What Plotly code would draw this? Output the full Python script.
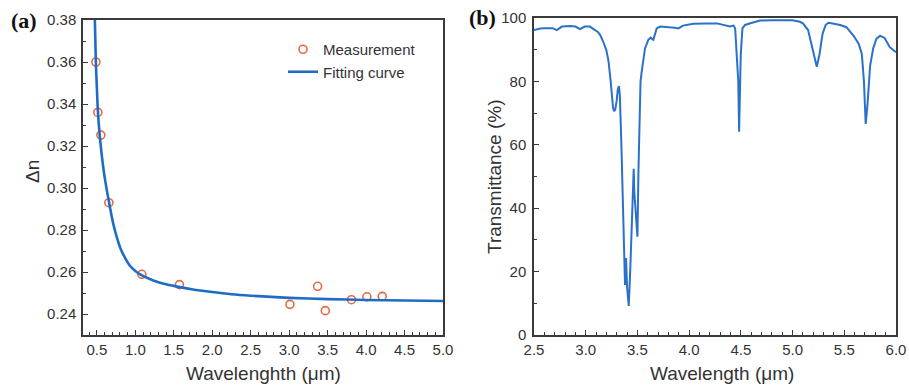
import plotly.graph_objects as go

# ---------------- Panel (a) data ----------------
meas_wl = [0.487, 0.513, 0.552, 0.656, 1.085, 1.574, 3.01, 3.37, 3.47, 3.81, 4.01, 4.21]
meas_dn = [0.360, 0.336, 0.3252, 0.293, 0.2589, 0.254, 0.2446, 0.2532, 0.2416, 0.2468, 0.2482, 0.2484]

fit_wl = [0.474, 0.487, 0.50, 0.513, 0.535, 0.56, 0.59, 0.62, 0.66, 0.71, 0.76, 0.81, 0.87,
          0.93, 1.00, 1.08, 1.18, 1.28, 1.40, 1.58, 1.75, 1.97, 2.25, 2.50, 3.00, 3.50,
          4.00, 4.50, 5.00]
fit_dn = [0.380, 0.360, 0.348, 0.337, 0.326, 0.317, 0.308, 0.301, 0.293, 0.2835, 0.2765,
          0.271, 0.2665, 0.263, 0.2605, 0.2585, 0.2568, 0.2554, 0.2542, 0.2528, 0.2517,
          0.2506, 0.2494, 0.2487, 0.2477, 0.2471, 0.2467, 0.2464, 0.2462]

# ---------------- Panel (b) data ----------------
spec_wl = [2.50, 2.53, 2.56, 2.60, 2.64, 2.68, 2.72, 2.75, 2.77, 2.81, 2.85, 2.90, 2.945, 2.99,
           3.04, 3.09, 3.12, 3.14, 3.17, 3.20, 3.22, 3.24, 3.255, 3.265, 3.275, 3.285, 3.30,
           3.31, 3.322, 3.33, 3.345, 3.36, 3.372, 3.38, 3.385, 3.39, 3.40, 3.408, 3.416, 3.43,
           3.445, 3.455, 3.464, 3.47, 3.48, 3.49, 3.50, 3.51, 3.52, 3.53, 3.541, 3.557, 3.573,
           3.605, 3.628, 3.654, 3.67, 3.686, 3.72, 3.77, 3.815, 3.86, 3.896, 3.94, 4.04, 4.10,
           4.17, 4.27, 4.33, 4.395, 4.43, 4.445, 4.46, 4.475, 4.483, 4.49, 4.499, 4.515, 4.54,
           4.60, 4.686, 4.80, 4.90, 5.00, 5.07, 5.10, 5.15, 5.18, 5.21, 5.234, 5.26, 5.29, 5.32,
           5.346, 5.40, 5.46, 5.52, 5.59, 5.64, 5.67, 5.69, 5.707, 5.725, 5.75, 5.78, 5.81,
           5.846, 5.89, 5.94, 6.0]
spec_T = [96.2, 96.5, 96.7, 96.8, 96.9, 96.8, 96.2, 96.9, 97.3, 97.4, 97.5, 97.3, 96.5, 97.3,
          97.3, 96.2, 95.5, 94.6, 92.5, 89.8, 86.5, 80.5, 74.5, 71.5, 70.6, 71.0, 74.0,
          77.5, 78.5, 75.5, 60.0, 42.0, 22.0, 15.8, 22.0, 24.3, 15.0, 11.0, 9.2, 20.0,
          36.0, 46.0, 52.4, 45.0, 40.0, 38.0, 31.0, 52.0, 74.0, 80.0, 83.0, 87.0, 90.4,
          93.1, 93.8, 93.1, 95.0, 96.7, 97.3, 97.2, 97.0, 96.9, 96.7, 97.6, 98.2, 98.3,
          98.3, 98.3, 97.8, 97.3, 97.6, 96.7, 88.3, 80.0, 64.1, 78.0, 88.3, 96.7, 97.8,
          98.4, 99.2, 99.3, 99.2, 99.3, 98.8, 98.3, 96.2, 92.0, 87.5, 84.6, 88.5, 95.0, 97.8,
          98.5, 98.2, 97.8, 97.1, 94.4, 91.8, 88.6, 80.0, 66.6, 73.0, 85.0, 90.5, 93.4,
          94.4, 93.7, 90.8, 89.2]

W, H = 909, 387
FONT = "Liberation Sans, Arial, sans-serif"
AXC = "#3a3a3a"

fig = go.Figure()
fig.add_trace(go.Scatter(
    x=meas_wl, y=meas_dn, mode="markers", name="Measurement",
    marker=dict(symbol="circle-open", size=8, color="#E8683F", line=dict(width=1.6)),
    xaxis="x", yaxis="y"))
fig.add_trace(go.Scatter(
    x=fit_wl, y=fit_dn, mode="lines", name="Fitting curve",
    line=dict(color="#1F6CC4", width=2.6, shape="spline", smoothing=0.8),
    xaxis="x", yaxis="y"))
fig.add_trace(go.Scatter(
    x=spec_wl, y=spec_T, mode="lines", showlegend=False,
    line=dict(color="#2A72C8", width=2),
    xaxis="x2", yaxis="y2"))

def px_x(p):
    return p / W

def px_y(p):
    return 1 - p / H

axis_common = dict(
    showline=True, linecolor=AXC, linewidth=1.5, mirror=True,
    ticks="inside", ticklen=5, tickwidth=1.2, tickcolor=AXC,
    showgrid=False, zeroline=False, automargin=False,
    tickfont=dict(family=FONT, size=15, color="#333"),
)

fig.update_layout(
    width=W, height=H,
    margin=dict(l=0, r=0, t=0, b=0, autoexpand=False),
    paper_bgcolor="white", plot_bgcolor="white",
    showlegend=True,
    legend=dict(x=px_x(283), y=px_y(33), xanchor="left", yanchor="top",
                bgcolor="rgba(0,0,0,0)", font=dict(family=FONT, size=15, color="#333"),
                itemwidth=30, tracegroupgap=0),
    xaxis=dict(domain=[px_x(83), px_x(443)], range=[0.32, 5.0], anchor="y",
               tickmode="linear", tick0=0.5, dtick=0.5, tickformat=".1f",
               minor=dict(ticks="inside", ticklen=3, tickcolor=AXC, dtick=0.1, tick0=0.5),
               **axis_common),
    yaxis=dict(domain=[px_y(335), px_y(20)], range=[0.23, 0.38], anchor="x",
               tickmode="linear", tick0=0.24, dtick=0.02, tickformat=".2f",
               ticklabelstandoff=2,
               minor=dict(ticks="inside", ticklen=3, tickcolor=AXC, dtick=0.01, tick0=0.24),
               **axis_common),
    xaxis2=dict(domain=[px_x(534), px_x(896)], range=[2.5, 6.0], anchor="y2",
                tickmode="linear", tick0=2.5, dtick=0.5, tickformat=".1f",
                minor=dict(ticks="inside", ticklen=3, tickcolor=AXC, dtick=0.1, tick0=2.5),
                **axis_common),
    yaxis2=dict(domain=[px_y(335), px_y(18)], range=[0, 100], anchor="x2",
                tickmode="linear", tick0=0, dtick=20, ticklabelstandoff=3,
                minor=dict(ticks="inside", ticklen=3, tickcolor=AXC, dtick=10, tick0=0),
                **axis_common),
)

ann = [
    dict(text="<b>(a)</b>", x=px_x(24), y=px_y(21), font=dict(family="Liberation Serif, Times New Roman, serif", size=22, color="#111")),
    dict(text="<b>(b)</b>", x=px_x(482), y=px_y(18), font=dict(family="Liberation Serif, Times New Roman, serif", size=22, color="#111")),
    dict(text="Δn", x=px_x(32), y=px_y(172), textangle=-90, font=dict(family=FONT, size=19, color="#333")),
    dict(text="Transmittance (%)", x=px_x(494), y=px_y(176), textangle=-90, font=dict(family=FONT, size=19, color="#333")),
    dict(text="Wavelenghth (μm)", x=px_x(263), y=px_y(373), font=dict(family=FONT, size=19, color="#333")),
    dict(text="Wavelength (μm)", x=px_x(722), y=px_y(373), font=dict(family=FONT, size=19, color="#333")),
]
for a in ann:
    a.update(xref="paper", yref="paper", showarrow=False, xanchor="center", yanchor="middle")
fig.update_layout(annotations=ann)

fig.write_html("out.html", config={"displayModeBar": False},
               post_script="document.body.style.margin='0';")
